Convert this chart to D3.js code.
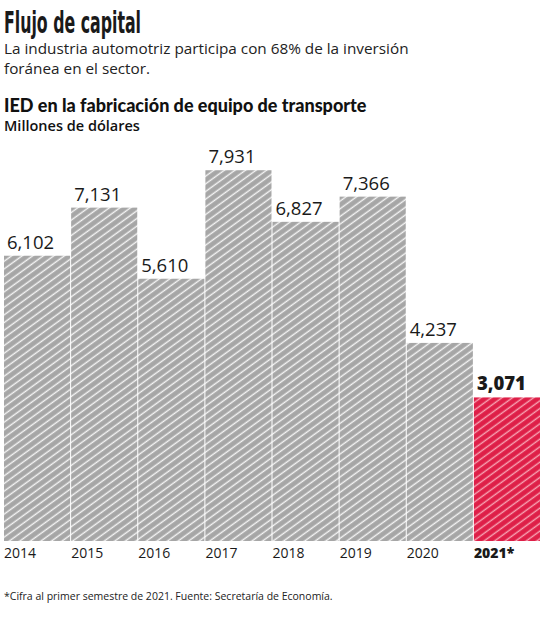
<!DOCTYPE html>
<html>
<head>
<meta charset="utf-8">
<script src="https://cdn.jsdelivr.net/npm/d3@7"></script>
<style>
  body { margin: 0; background: #fff; }
  text { font-family: "Open Sans", sans-serif; }
</style>
</head>
<body>
<svg id="chart"></svg>
<script>
// data
const years = ["2014", "2015", "2016", "2017", "2018", "2019", "2020", "2021*"];
const values = [6102, 7131, 5610, 7931, 6827, 7366, 4237, 3071];
const highlight = ["2021*"];

const width = 543, height = 620;
const margin = { top: 167, bottom: 79, left: 4, right: 3 };

const svg = d3.select("#chart")
    .attr("width", width)
    .attr("height", height);

// hatch patterns
const defs = svg.append("defs");
function hatch(id, bg, line) {
  let p = defs.append("pattern")
      .attr("id", id)
      .attr("patternUnits", "userSpaceOnUse")
      .attr("width", 6)
      .attr("height", 6.2)
      .attr("patternTransform", "rotate(-36)");
  p.append("rect").attr("width", 6).attr("height", 6.2).attr("fill", bg);
  p.append("line")
      .attr("x1", 0).attr("y1", 3).attr("x2", 6).attr("y2", 3)
      .attr("stroke", line)
      .attr("stroke-width", 1.4);
}
hatch("grayHatch", "#a6a6a6", "#f4f4f4");
hatch("redHatch", "#de1f48", "#f7a3b3");

// titles
svg.append("text")
    .attr("x", 4).attr("y", 33)
    .attr("textLength", 137)
    .attr("lengthAdjust", "spacingAndGlyphs")
    .style("font-family", "'DejaVu Sans Condensed', sans-serif")
    .style("font-size", "30px")
    .style("font-weight", "bold")
    .style("fill", "#1a1a1a")
    .text("Flujo de capital");

svg.append("text")
    .attr("x", 4).attr("y", 54)
    .style("font-size", "15.3px")
    .style("fill", "#222")
    .text("La industria automotriz participa con 68% de la inversión");
svg.append("text")
    .attr("x", 4).attr("y", 74)
    .style("font-size", "15.3px")
    .style("fill", "#222")
    .text("foránea en el sector.");

svg.append("text")
    .attr("x", 4).attr("y", 112)
    .style("font-family", "Lato, sans-serif")
    .style("font-size", "18px")
    .style("font-weight", "900")
    .style("fill", "#111")
    .text("IED en la fabricación de equipo de transporte");
svg.append("text")
    .attr("x", 4).attr("y", 131)
    .style("font-size", "14.5px")
    .style("font-weight", "600")
    .style("fill", "#111")
    .text("Millones de dólares");

// scales
let x = d3.scaleBand()
    .domain(years)
    .range([margin.left, width - margin.right])
    .paddingInner(0.015);

let y = d3.scaleLinear()
    .domain([0, 8000])
    .range([height - margin.bottom, margin.top]);

let chart = svg.append("g");

chart.selectAll(".bar")
  .data(years)
  .join("rect")
    .attr("class", "bar")
    .attr("x", d => x(d))
    .attr("width", x.bandwidth())
    .attr("y", (d, i) => y(values[i]))
    .attr("height", (d, i) => y(0) - y(values[i]))
    .attr("fill", d => highlight.includes(d) ? "url(#redHatch)" : "url(#grayHatch)");

// value labels
chart.selectAll(".val")
  .data(years)
  .join("text")
    .attr("class", "val")
    .attr("x", d => x(d) + 3)
    .attr("y", (d, i) => y(values[i]) - 7)
    .style("font-size", "18.5px")
    .style("font-weight", d => highlight.includes(d) ? "800" : "400")
    .style("fill", "#1a1a1a")
    .text((d, i) => d3.format(",")(values[i]));

// year axis
let xAxis = d3.axisBottom(x).tickSize(0).tickPadding(0);
let gx = svg.append("g")
    .attr("transform", `translate(0,${height - margin.bottom})`)
    .call(xAxis);
gx.select(".domain").remove();
gx.selectAll("text")
    .attr("x", d => -x.bandwidth() / 2)
    .attr("y", 17)
    .attr("dy", 0)
    .attr("text-anchor", "start")
    .style("font-family", "'Open Sans', sans-serif")
    .style("font-size", "14px")
    .style("font-weight", d => highlight.includes(d) ? "800" : "400")
    .style("fill", "#1a1a1a");

// footnote
svg.append("text")
    .attr("x", 4).attr("y", 600)
    .style("font-size", "10.5px")
    .style("fill", "#222")
    .text("*Cifra al primer semestre de 2021. Fuente: Secretaría de Economía.");
</script>
</body>
</html>
